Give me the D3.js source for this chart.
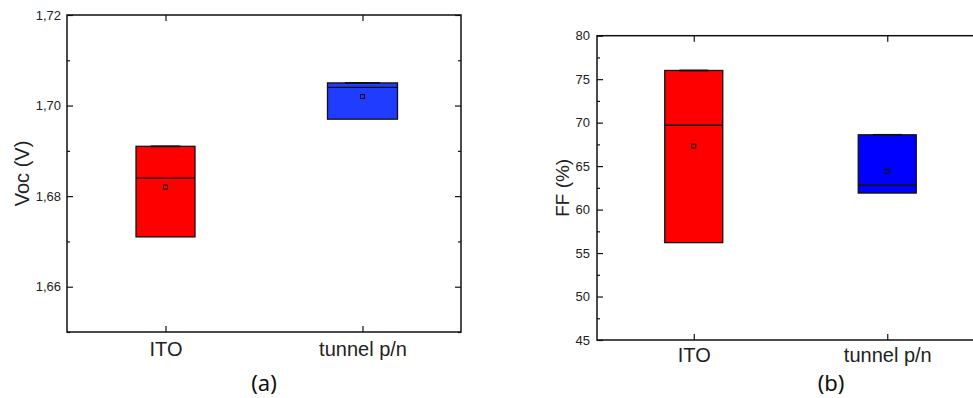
<!DOCTYPE html>
<html>
<head>
<meta charset="utf-8">
<script src="https://cdn.jsdelivr.net/npm/d3@7"></script>
<style>
  body { margin: 0; background: #fff; }
  svg { display: block; }
  .axis path, .axis line { stroke: #111; stroke-width: 1.2; }
  .axis text { fill: #222; font-family: "Liberation Sans", Arial, sans-serif; }
</style>
</head>
<body>
<div id="chart"></div>
<script>
// data
var categories = ["ITO", "tunnel p/n"];

var vocLow = [1.671, 1.697];
var vocHigh = [1.691, 1.705];
var vocMedian = [1.684, 1.704];
var vocMean = [1.682, 1.702];
var vocTicks = [1.66, 1.68, 1.70, 1.72];
var vocMinor = [1.65, 1.67, 1.69, 1.71];

var ffLow = [56.2, 61.9];
var ffHigh = [76.0, 68.6];
var ffMedian = [69.7, 62.8];
var ffMean = [67.3, 64.4];
var ffTicks = [45, 50, 55, 60, 65, 70, 75, 80];
var ffMinor = [47.5, 52.5, 57.5, 62.5, 67.5, 72.5, 77.5];

var W = 973, H = 398;

var svg = d3.select("#chart").append("svg")
    .attr("width", W)
    .attr("height", H);

var commaFmt = d3.formatLocale({decimal: ",", thousands: ".", grouping: [3], currency: ["", ""]}).format(".2f");

function drawPanel(p) {
  var x = d3.scalePoint()
    .domain(categories)
    .range([p.left, p.right])
    .padding(0.5);

  var y = d3.scaleLinear()
    .domain(p.domain)
    .range([p.bottom, p.top]);

  var g = svg.append("g");

  var rows = categories.map(function(c, i) {
    return {cat: c, low: p.low[i], high: p.high[i], med: p.median[i], mean: p.mean[i],
            fill: p.colors[i], w: p.boxW[i]};
  });

  // boxes
  var box = g.selectAll(".box").data(rows).enter().append("g").attr("class", "box");

  box.append("rect")
    .attr("x", function(d) { return x(d.cat) - d.w / 2; })
    .attr("y", function(d) { return y(d.high); })
    .attr("width", function(d) { return d.w; })
    .attr("height", function(d) { return y(d.low) - y(d.high); })
    .style("fill", function(d) { return d.fill; })
    .style("stroke", "#111")
    .style("stroke-width", 1.3);

  box.append("line")
    .attr("x1", function(d) { return x(d.cat) - d.w / 2; })
    .attr("x2", function(d) { return x(d.cat) + d.w / 2; })
    .attr("y1", function(d) { return y(d.med); })
    .attr("y2", function(d) { return y(d.med); })
    .style("stroke", "#111")
    .style("stroke-width", 1.3);

  // whisker caps sit on the box edges
  box.append("line")
    .attr("x1", function(d) { return x(d.cat) - d.w / 4; })
    .attr("x2", function(d) { return x(d.cat) + d.w / 4; })
    .attr("y1", function(d) { return y(d.high); })
    .attr("y2", function(d) { return y(d.high); })
    .style("stroke", "#111")
    .style("stroke-width", 1.8);

  box.append("rect")
    .attr("x", function(d) { return x(d.cat) - 2; })
    .attr("y", function(d) { return y(d.mean) - 2; })
    .attr("width", 4)
    .attr("height", 4)
    .style("fill", "none")
    .style("stroke", "#111")
    .style("stroke-width", 1);

  // frame
  g.append("rect")
    .attr("x", p.left).attr("y", p.top)
    .attr("width", p.right - p.left)
    .attr("height", p.bottom - p.top)
    .style("fill", "none")
    .style("stroke", "#111")
    .style("stroke-width", 1.5);

  // left axis, ticks inside
  g.append("g")
    .attr("class", "axis")
    .attr("transform", "translate(" + p.left + ",0)")
    .call(d3.axisLeft(y).tickValues(p.ticks).tickSize(-6).tickSizeOuter(0)
      .tickPadding(p.tickPad).tickFormat(p.fmt))
    .call(function(a) { a.select(".domain").remove(); })
    .selectAll("text").style("font-size", "13px");

  g.append("g")
    .attr("class", "axis")
    .attr("transform", "translate(" + p.left + ",0)")
    .call(d3.axisLeft(y).tickValues(p.minor).tickSize(-3).tickFormat(""))
    .call(function(a) { a.select(".domain").remove(); });

  // right axis, ticks inside
  g.append("g")
    .attr("class", "axis")
    .attr("transform", "translate(" + p.right + ",0)")
    .call(d3.axisRight(y).tickValues(p.ticks).tickSize(-6).tickFormat(""))
    .call(function(a) { a.select(".domain").remove(); });

  g.append("g")
    .attr("class", "axis")
    .attr("transform", "translate(" + p.right + ",0)")
    .call(d3.axisRight(y).tickValues(p.minor).tickSize(-3).tickFormat(""))
    .call(function(a) { a.select(".domain").remove(); });

  // top and bottom category ticks
  g.append("g")
    .attr("class", "axis")
    .attr("transform", "translate(0," + p.top + ")")
    .call(d3.axisTop(x).tickSize(-6).tickFormat(""))
    .call(function(a) { a.select(".domain").remove(); });

  g.append("g")
    .attr("class", "axis")
    .attr("transform", "translate(0," + p.bottom + ")")
    .call(d3.axisBottom(x).tickSize(-6).tickPadding(p.catPad))
    .call(function(a) { a.select(".domain").remove(); })
    .selectAll("text").style("font-size", "20px");

  // y title
  g.append("text")
    .attr("transform", "translate(" + p.titleX + "," + ((p.top + p.bottom) / 2) + ") rotate(-90)")
    .attr("text-anchor", "middle")
    .style("font-family", "'Liberation Sans', Arial, sans-serif")
    .style("font-size", p.titleSize + "px")
    .style("fill", "#222")
    .text(p.title);

  // panel letter
  g.append("text")
    .attr("x", p.letterX)
    .attr("y", 391)
    .attr("text-anchor", "middle")
    .style("font-family", "'Noto Sans', 'Open Sans', sans-serif")
    .style("font-size", "22px")
    .style("fill", "#111")
    .text(p.letter);
}

drawPanel({
  left: 67, right: 461, top: 15, bottom: 332,
  domain: [1.65, 1.72],
  low: vocLow, high: vocHigh, median: vocMedian, mean: vocMean,
  ticks: vocTicks, minor: vocMinor,
  fmt: commaFmt, tickPad: 6, catPad: 10,
  colors: ["#ff0000", "#1f3cff"], boxW: [59, 70],
  title: "Voc (V)", titleX: 29, titleSize: 20,
  letter: "(a)", letterX: 264
});

drawPanel({
  left: 597, right: 984, top: 35.7, bottom: 340,
  domain: [45, 80],
  low: ffLow, high: ffHigh, median: ffMedian, mean: ffMean,
  ticks: ffTicks, minor: ffMinor,
  fmt: d3.format("d"), tickPad: 7, catPad: 8,
  colors: ["#ff0000", "#0000ff"], boxW: [58, 58],
  title: "FF (%)", titleX: 569, titleSize: 19,
  letter: "(b)", letterX: 831
});
</script>
</body>
</html>
